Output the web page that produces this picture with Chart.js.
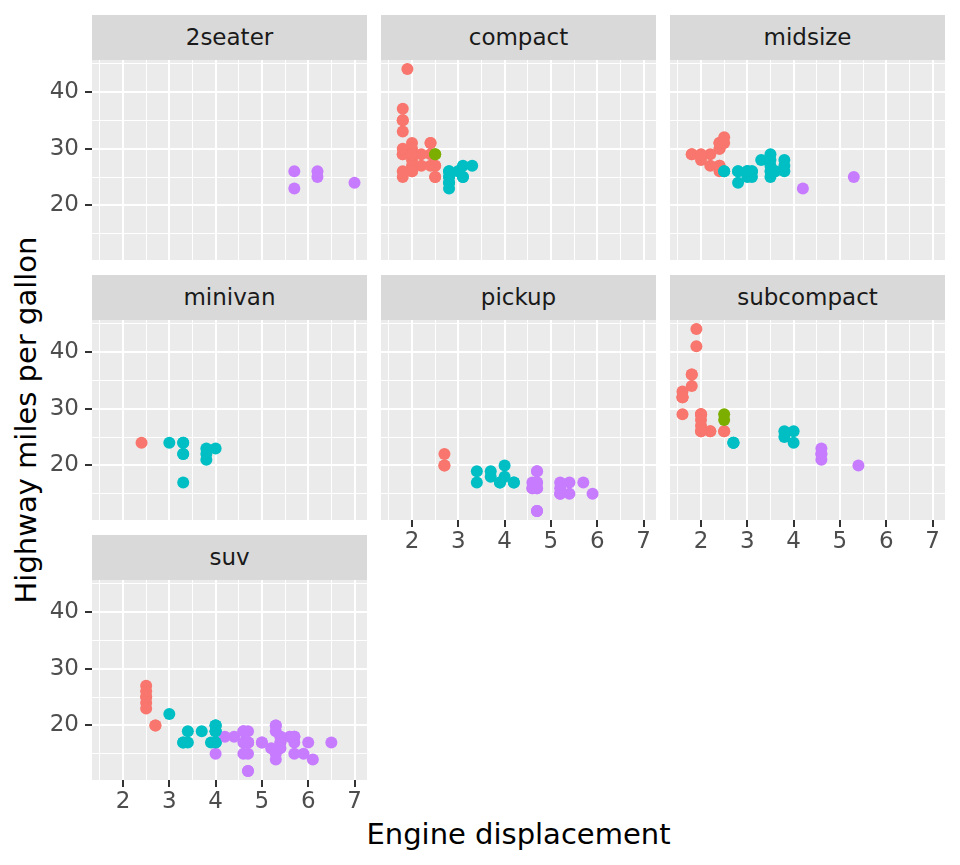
<!DOCTYPE html>
<html>
<head>
<meta charset="utf-8">
<script src="https://cdn.jsdelivr.net/npm/chart.js@4.4.1/dist/chart.umd.min.js"></script>
<style>
  body { margin: 0; background: #fff; width: 960px; height: 865px; position: relative; overflow: hidden; font-family: 'DejaVu Sans', sans-serif; }
  .strip { position: absolute; width: 275px; height: 45px; background: #D9D9D9; color: #1A1A1A; font-size: 23px; line-height: 45px; text-align: center; }
  .title { position: absolute; color: #000; font-size: 29px; line-height: 34px; height: 34px; white-space: nowrap; text-align: center; }
  canvas { position: absolute; }
</style>
</head>
<body>
<div class="title" style="left:92px; width:853px; top:817px;">Engine displacement</div>
<div class="title" style="left:-334px; top:403px; width:720px; transform:rotate(-90deg);">Highway miles per gallon</div>
<script>
// facets, in facet_wrap order
var classes = ['2seater', 'compact', 'midsize', 'minivan', 'pickup', 'subcompact', 'suv'];

var xTicks = [2, 3, 4, 5, 6, 7];
var yTicks = [20, 30, 40];

// mpg data, one set of arrays per class (displ, hwy, cyl)
var seaterDispl = [5.7, 5.7, 6.2, 6.2, 7.0];
var seaterHwy   = [26, 23, 26, 25, 24];
var seaterCyl   = [8, 8, 8, 8, 8];

var compactDispl = [1.8, 1.8, 2.0, 2.0, 2.8, 2.8, 3.1, 1.8, 1.8, 2.0, 2.0, 2.8, 2.8, 3.1, 3.1,
  2.4, 2.4, 2.5, 2.5, 2.5, 2.5, 2.2, 2.2, 2.4, 2.4, 3.0, 3.0, 3.3, 1.8, 1.8, 1.8, 1.8, 1.8,
  2.0, 2.0, 2.0, 2.0, 2.8, 1.9, 2.0, 2.0, 2.0, 2.0, 2.5, 2.5, 2.8, 2.8];
var compactHwy = [29, 29, 31, 30, 26, 26, 27, 26, 25, 28, 27, 25, 25, 25, 25,
  29, 27, 25, 27, 25, 27, 27, 29, 31, 31, 26, 26, 27, 30, 33, 35, 37, 35,
  29, 26, 29, 29, 24, 44, 29, 26, 29, 29, 29, 29, 23, 24];
var compactCyl = [4, 4, 4, 4, 6, 6, 6, 4, 4, 4, 4, 6, 6, 6, 6,
  4, 4, 4, 4, 4, 4, 4, 4, 4, 4, 6, 6, 6, 4, 4, 4, 4, 4,
  4, 4, 4, 4, 6, 4, 4, 4, 4, 4, 5, 5, 6, 6];

var midsizeDispl = [2.8, 3.1, 4.2, 2.4, 2.4, 3.1, 3.5, 3.6, 2.4, 2.4, 2.4, 2.4, 2.5, 2.5, 3.3,
  2.5, 2.5, 3.5, 3.5, 3.0, 3.0, 3.5, 3.1, 3.8, 3.8, 3.8, 5.3, 2.2, 2.2, 2.4, 2.4, 3.0, 3.0, 3.5,
  1.8, 1.8, 2.0, 2.0, 2.8, 2.8, 3.6];
var midsizeHwy = [24, 25, 23, 27, 30, 26, 29, 26, 26, 27, 30, 31, 26, 26, 28,
  31, 32, 27, 26, 26, 25, 25, 26, 26, 27, 28, 25, 29, 27, 31, 31, 26, 26, 28,
  29, 29, 28, 29, 26, 26, 26];
var midsizeCyl = [6, 6, 8, 4, 4, 6, 6, 6, 4, 4, 4, 4, 6, 6, 6,
  4, 4, 6, 6, 6, 6, 6, 6, 6, 6, 6, 8, 4, 4, 4, 4, 6, 6, 6,
  4, 4, 4, 4, 6, 6, 6];

var minivanDispl = [2.4, 3.0, 3.3, 3.3, 3.3, 3.3, 3.3, 3.8, 3.8, 3.8, 4.0];
var minivanHwy   = [24, 24, 22, 22, 24, 24, 17, 22, 21, 23, 23];
var minivanCyl   = [4, 6, 6, 6, 6, 6, 6, 6, 6, 6, 6];

var pickupDispl = [3.7, 3.7, 3.9, 3.9, 4.7, 4.7, 4.7, 5.2, 5.2,
  4.7, 4.7, 4.7, 4.7, 4.7, 4.7, 5.2, 5.2, 5.7, 5.9,
  4.2, 4.2, 4.6, 4.6, 4.6, 5.4, 5.4, 2.7, 2.7, 2.7, 3.4, 3.4, 4.0, 4.0];
var pickupHwy = [19, 18, 17, 17, 19, 19, 12, 17, 15,
  16, 12, 17, 17, 16, 12, 15, 16, 17, 15,
  17, 17, 16, 16, 17, 15, 17, 20, 20, 22, 17, 19, 18, 20];
var pickupCyl = [6, 6, 6, 6, 8, 8, 8, 8, 8,
  8, 8, 8, 8, 8, 8, 8, 8, 8, 8,
  6, 6, 8, 8, 8, 8, 8, 4, 4, 4, 6, 6, 6, 6];

var subcompactDispl = [3.8, 3.8, 4.0, 4.0, 4.6, 4.6, 4.6, 4.6, 5.4,
  1.6, 1.6, 1.6, 1.6, 1.6, 1.8, 1.8, 1.8, 2.0, 2.0, 2.0, 2.0, 2.0, 2.7, 2.7, 2.7,
  2.2, 2.2, 2.5, 2.5, 1.9, 1.9, 2.0, 2.0, 2.5, 2.5];
var subcompactHwy = [26, 25, 26, 24, 21, 22, 23, 22, 20,
  33, 32, 32, 29, 32, 34, 36, 36, 29, 26, 29, 28, 27, 24, 24, 24,
  26, 26, 26, 26, 44, 41, 29, 26, 28, 29];
var subcompactCyl = [6, 6, 6, 6, 8, 8, 8, 8, 8,
  4, 4, 4, 4, 4, 4, 4, 4, 4, 4, 4, 4, 4, 6, 6, 6,
  4, 4, 4, 4, 4, 4, 4, 4, 5, 5];

var suvDispl = [5.3, 5.3, 5.3, 5.7, 6.0, 5.3, 5.3, 5.7, 6.5,
  3.9, 4.7, 4.7, 4.7, 5.2, 5.7, 5.9, 4.6, 5.4, 5.4, 4.0, 4.0, 4.0, 4.0, 4.6, 5.0,
  3.0, 3.7, 4.0, 4.7, 4.7, 4.7, 5.7, 6.1, 4.0, 4.2, 4.4, 4.6, 5.4, 5.4, 5.4,
  4.0, 4.0, 4.6, 5.0, 3.3, 3.3, 4.0, 5.6, 2.5, 2.5, 2.5, 2.5, 2.5, 2.5,
  2.7, 2.7, 3.4, 3.4, 4.0, 4.7, 4.7, 5.7];
var suvHwy = [20, 15, 20, 17, 17, 19, 14, 15, 17,
  17, 17, 12, 17, 16, 18, 15, 17, 17, 18, 17, 19, 17, 19, 19, 17,
  22, 19, 20, 17, 12, 19, 18, 14, 15, 18, 18, 15, 17, 16, 18,
  17, 19, 19, 17, 17, 17, 20, 18, 25, 24, 27, 25, 26, 23,
  20, 20, 19, 17, 20, 17, 15, 18];
var suvCyl = [8, 8, 8, 8, 8, 8, 8, 8, 8,
  6, 8, 8, 8, 8, 8, 8, 8, 8, 8, 6, 6, 6, 6, 8, 8,
  6, 6, 6, 8, 8, 8, 8, 8, 8, 8, 8, 8, 8, 8, 8,
  6, 6, 8, 8, 6, 6, 6, 8, 4, 4, 4, 4, 4, 4,
  4, 4, 6, 6, 6, 8, 8, 8];

var panelDispl = [seaterDispl, compactDispl, midsizeDispl, minivanDispl, pickupDispl, subcompactDispl, suvDispl];
var panelHwy = [seaterHwy, compactHwy, midsizeHwy, minivanHwy, pickupHwy, subcompactHwy, suvHwy];
var panelCyl = [seaterCyl, compactCyl, midsizeCyl, minivanCyl, pickupCyl, subcompactCyl, suvCyl];

var cylColours = { 4: '#F8766D', 5: '#7CAE00', 6: '#00BFC4', 8: '#C77CFF' };

// shared limits with ggplot's 5% expansion
function expand(arrs) {
  var all = [].concat.apply([], arrs);
  var lo = Math.min.apply(null, all), hi = Math.max.apply(null, all);
  var pad = (hi - lo) * 0.05;
  return [lo - pad, hi + pad];
}
var xLim = expand(panelDispl);
var yLim = expand(panelHwy);

// major + minor grid positions
function gridOf(majors, lim) {
  var step = majors[1] - majors[0], out = [];
  for (var v = majors[0] - step; v <= majors[majors.length - 1] + step + 1e-9; v += step / 2) {
    if (v >= lim[0] && v <= lim[1]) out.push(Math.round(v * 100) / 100);
  }
  return out;
}
var xGrid = gridOf(xTicks, xLim);
var yGrid = gridOf(yTicks, yLim);

Chart.defaults.font.family = "'DejaVu Sans'";
Chart.defaults.font.size = 23;
Chart.defaults.color = '#4D4D4D';

var panelBg = {
  id: 'panelBg',
  beforeDraw: function(chart) {
    var a = chart.chartArea, ctx = chart.ctx;
    ctx.save();
    ctx.fillStyle = '#EBEBEB';
    ctx.fillRect(a.left, a.top, a.right - a.left, a.bottom - a.top);
    ctx.restore();
  }
};

var W = 275, STRIP = 45, H = 200, AXW = 92, AXH = 45;

classes.forEach(function(name, i) {
  var col = i % 3, row = Math.floor(i / 3);
  var left = Math.round(92 + col * 289.2);
  var top = 15 + row * 260;
  var showX = i + 3 >= classes.length;
  var showY = col === 0;

  var strip = document.createElement('div');
  strip.className = 'strip';
  strip.style.left = left + 'px';
  strip.style.top = top + 'px';
  strip.textContent = name;
  document.body.appendChild(strip);

  var cv = document.createElement('canvas');
  var cw = showY ? left + W : W;
  var ch = H + (showX ? AXH : 0);
  cv.width = cw; cv.height = ch;
  cv.style.width = cw + 'px'; cv.style.height = ch + 'px';
  cv.style.left = (showY ? 0 : left) + 'px';
  cv.style.top = (top + STRIP) + 'px';
  document.body.appendChild(cv);

  var xs = panelDispl[i], ys = panelHwy[i], cs = panelCyl[i];

  new Chart(cv, {
    type: 'scatter',
    data: {
      datasets: [{
        data: xs.map(function(x, j) { return { x: x, y: ys[j] }; }),
        backgroundColor: cs.map(function(c) { return cylColours[c]; }),
        borderWidth: 0,
        pointRadius: 6,
        pointHoverRadius: 6
      }]
    },
    options: {
      responsive: false,
      animation: false,
      events: [],
      layout: { padding: 0, autoPadding: false },
      plugins: { legend: { display: false }, tooltip: { enabled: false } },
      scales: {
        x: {
          type: 'linear',
          min: xLim[0], max: xLim[1],
          afterBuildTicks: function(s) { s.ticks = xGrid.map(function(v) { return { value: v }; }); },
          afterFit: function(s) { s.height = showX ? AXH : 0; s.paddingLeft = 0; s.paddingRight = 0; },
          border: { display: false },
          grid: {
            color: '#FFFFFF',
            lineWidth: function(c) { return c.tick && xTicks.indexOf(c.tick.value) >= 0 ? 2 : 1; },
            drawTicks: showX,
            tickLength: 7,
            tickWidth: 2,
            tickColor: function(c) { return c.tick && xTicks.indexOf(c.tick.value) >= 0 ? '#333333' : 'rgba(0,0,0,0)'; }
          },
          ticks: {
            display: showX,
            autoSkip: false,
            maxRotation: 0,
            padding: 1,
            callback: function(v) { return xTicks.indexOf(v) >= 0 ? String(v) : ''; }
          }
        },
        y: {
          type: 'linear',
          min: yLim[0], max: yLim[1],
          afterBuildTicks: function(s) { s.ticks = yGrid.map(function(v) { return { value: v }; }); },
          afterFit: function(s) { s.width = showY ? AXW : 0; s.paddingTop = 0; s.paddingBottom = 0; },
          border: { display: false },
          grid: {
            color: '#FFFFFF',
            lineWidth: function(c) { return c.tick && yTicks.indexOf(c.tick.value) >= 0 ? 2 : 1; },
            drawTicks: showY,
            tickLength: 7,
            tickWidth: 2,
            tickColor: function(c) { return c.tick && yTicks.indexOf(c.tick.value) >= 0 ? '#333333' : 'rgba(0,0,0,0)'; }
          },
          ticks: {
            display: showY,
            autoSkip: false,
            padding: 6,
            callback: function(v) { return yTicks.indexOf(v) >= 0 ? String(v) : ''; }
          }
        }
      }
    },
    plugins: [panelBg]
  });
});
</script>
</body>
</html>
